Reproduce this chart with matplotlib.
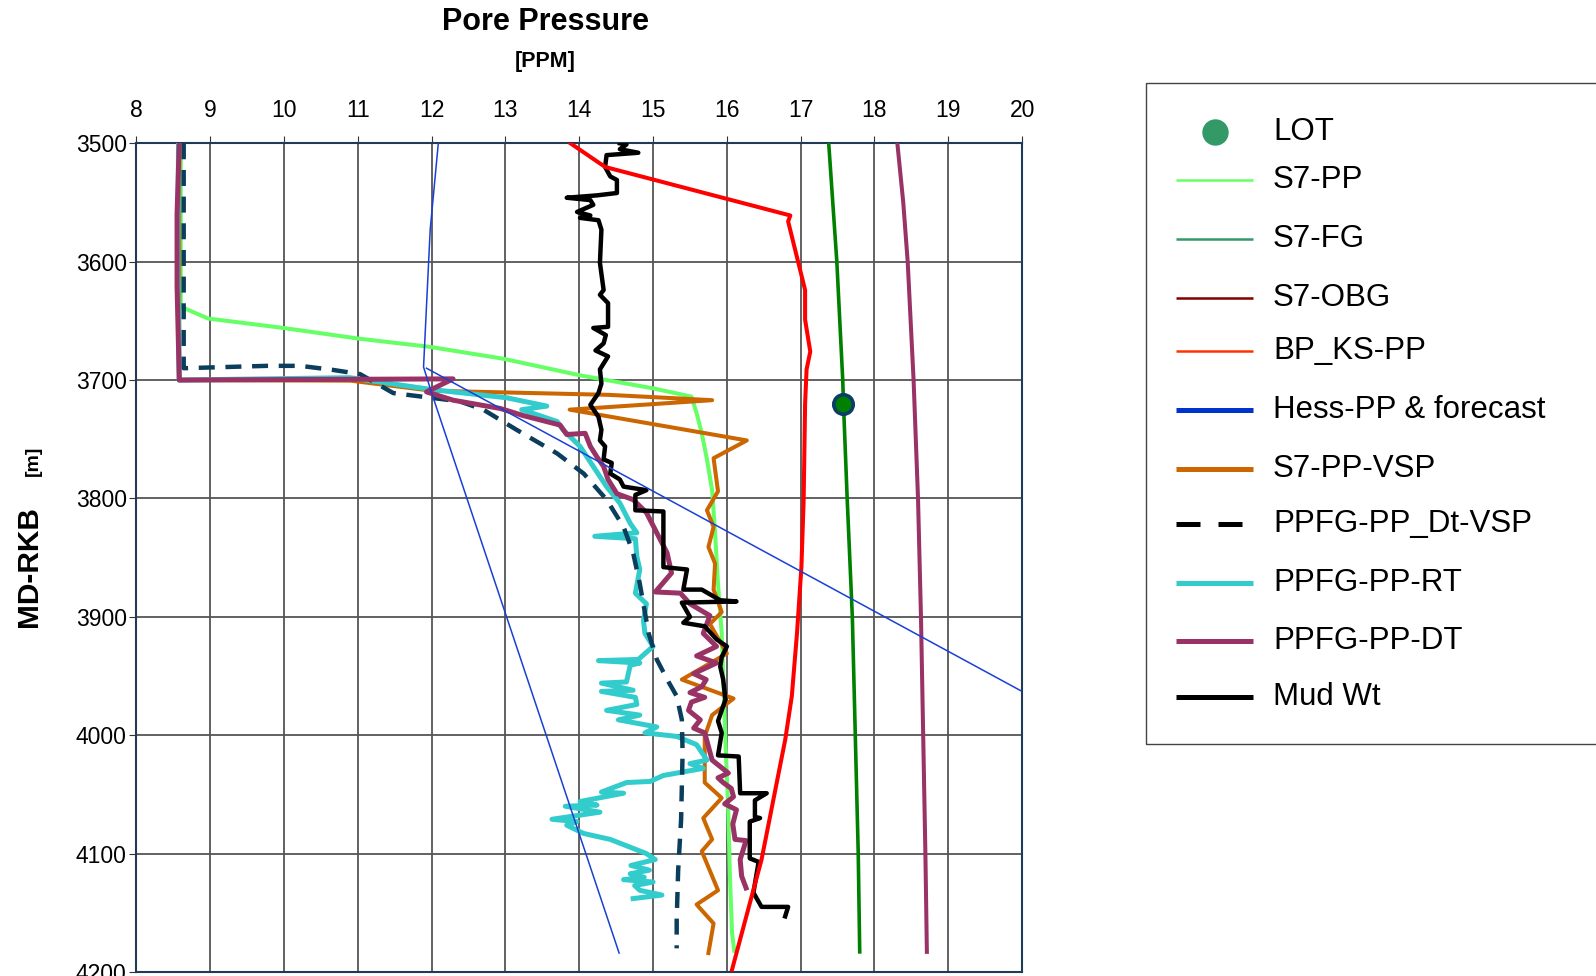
import matplotlib
matplotlib.use("Agg")
import matplotlib.pyplot as plt
from matplotlib.lines import Line2D
from matplotlib.patches import Rectangle

plt.rcParams['font.family'] = ['Liberation Sans', 'DejaVu Sans']

# ---- data: pressure gradient [ppg] vs measured depth [m] ----
s7pp_md = [3500, 3638, 3648, 3656, 3665, 3672, 3682, 3696, 3707, 3714, 3728, 3745,
           3767, 3793, 3829, 3872, 3914, 4004, 4066, 4117, 4167, 4182]
s7pp = [8.60, 8.60, 8.97, 9.99, 11.01, 11.98, 12.97, 14.01, 15.00, 15.52, 15.59, 15.66,
        15.73, 15.80, 15.84, 15.88, 15.93, 15.98, 16.02, 16.04, 16.07, 16.10]

s7fg_md = [3500, 3600, 3700, 3720, 3800, 3900, 4000, 4100, 4183]
s7fg = [17.38, 17.49, 17.57, 17.58, 17.63, 17.70, 17.74, 17.78, 17.80]

s7obg_md = [3500, 3550, 3600, 3700, 3800, 3900, 4000, 4100, 4183]
s7obg = [18.31, 18.39, 18.45, 18.53, 18.59, 18.63, 18.66, 18.69, 18.71]

bpks_md = [3500, 3520, 3561, 3566, 3624, 3649, 3676, 3691, 3720, 3802, 3858, 3914,
           3967, 4004, 4105, 4198]
bpks = [13.88, 14.35, 16.86, 16.83, 17.06, 17.06, 17.13, 17.08, 17.06, 17.04, 17.01, 16.95,
        16.88, 16.79, 16.47, 16.07]

hess_md = [3500, 3573, 3689, 3711, 4184]
hess = [12.09, 11.98, 11.89, 12.00, 14.54]
forecast_md = [3690, 3963]
forecast = [11.93, 20.0]

vsp_md = [3500, 3700, 3700.5, 3709, 3712.5, 3717, 3725, 3751, 3766, 3794, 3810, 3824,
          3841, 3855, 3877, 3896, 3906, 3931, 3953, 3969, 3983, 4001, 4040, 4053,
          4070, 4088, 4098, 4131, 4143, 4159, 4184]
vsp = [8.58, 8.58, 10.90, 12.00, 14.40, 15.80, 13.87, 16.27, 15.82, 15.88, 15.73, 15.82,
       15.75, 15.84, 15.82, 15.93, 15.77, 16.00, 15.39, 16.09, 15.80, 15.70, 15.70, 15.93,
       15.68, 15.80, 15.66, 15.88, 15.59, 15.82, 15.75]

dtvsp_md = [3500, 3689, 3690, 3688, 3688, 3691.5, 3695, 3711, 3718, 3725, 3742, 3762,
            3779, 3801, 3824, 3846, 3872, 3914, 3936, 3955, 3967, 3987, 4015, 4071,
            4114, 4156, 4180]
dtvsp = [8.64, 8.64, 8.64, 9.77, 10.22, 10.67, 11.03, 11.48, 12.38, 12.70, 13.15, 13.70,
         14.06, 14.37, 14.60, 14.73, 14.82, 14.94, 15.05, 15.21, 15.32, 15.39, 15.40, 15.38,
         15.34, 15.32, 15.32]

rt_md = [3500, 3600, 3700, 3698, 3708, 3715, 3722, 3725, 3735, 3742, 3756, 3773,
         3790, 3804, 3821, 3829, 3832, 3834, 3849, 3860, 3880, 3889, 3903, 3914,
         3925, 3936, 3937, 3939, 3941, 3955, 3956, 3962, 3963, 3968, 3974, 3979,
         3983, 3987, 3993, 3998, 4001, 4008, 4021, 4024, 4028, 4034, 4039, 4040,
         4048, 4049, 4056, 4059, 4060, 4065, 4071, 4073, 4076, 4083, 4088, 4100,
         4105, 4110, 4114, 4117, 4120, 4122, 4124, 4127, 4131, 4135, 4138]
rt = [8.57, 8.56, 8.58, 10.89, 12.00, 13.02, 13.56, 13.22, 13.70, 13.78, 14.01, 14.19,
      14.37, 14.55, 14.69, 14.78, 14.21, 14.76, 14.78, 14.82, 14.76, 14.91, 14.87, 14.89,
      15.00, 14.80, 14.26, 14.82, 14.69, 14.64, 14.30, 14.73, 14.30, 14.76, 14.78, 14.37,
      14.82, 14.53, 15.05, 14.89, 15.32, 15.59, 15.73, 15.50, 15.68, 15.14, 14.96, 14.64,
      14.30, 14.60, 14.01, 14.24, 13.81, 14.28, 13.63, 13.97, 13.83, 14.06, 14.42, 14.91,
      15.03, 14.70, 14.95, 14.69, 14.88, 14.60, 15.00, 14.75, 14.82, 15.12, 14.73]

dt_md = [3500, 3560, 3620, 3700, 3699, 3710, 3717, 3724, 3730, 3738, 3746, 3745,
         3756, 3765, 3773, 3784, 3796, 3801, 3812, 3829, 3846, 3863, 3879, 3880,
         3889, 3899, 3914, 3925, 3933, 3939, 3948, 3953, 3959, 3964, 3968, 3972,
         3979, 3987, 3994, 3998, 4021, 4032, 4036, 4040, 4045, 4052, 4058, 4063,
         4075, 4088, 4089, 4105, 4119, 4129]
dt = [8.58, 8.55, 8.55, 8.58, 12.29, 11.93, 12.29, 12.93, 13.24, 13.74, 13.83, 14.08,
      14.15, 14.24, 14.33, 14.39, 14.51, 14.73, 14.91, 15.05, 15.19, 15.25, 15.03, 15.37,
      15.50, 15.77, 15.68, 15.86, 15.59, 15.86, 15.55, 15.72, 15.66, 15.50, 15.70, 15.52,
      15.48, 15.64, 15.55, 15.70, 15.80, 16.02, 15.88, 15.95, 16.06, 16.09, 15.97, 16.13,
      16.08, 16.11, 16.26, 16.18, 16.20, 16.26]

mud_md = [3500, 3501, 3505, 3508, 3510, 3520, 3528, 3531, 3542, 3544, 3546, 3548,
          3552, 3558, 3561, 3563, 3565, 3573, 3601, 3624, 3628, 3635, 3655, 3656,
          3662, 3669, 3675, 3680, 3691, 3703, 3711, 3721, 3731, 3742, 3751, 3756,
          3767, 3770, 3779, 3784, 3790, 3793, 3797, 3810, 3811, 3858, 3860, 3877,
          3877, 3886, 3887, 3888, 3900, 3905, 3908, 3919, 3925, 3934, 3942, 3953,
          3970, 3988, 3998, 4017, 4018, 4049, 4049, 4055, 4069, 4070, 4073, 4104,
          4107, 4133, 4145, 4145, 4153]
mud = [14.55, 14.64, 14.55, 14.80, 14.37, 14.35, 14.42, 14.51, 14.51, 14.24, 13.83, 14.15,
       14.19, 13.97, 14.15, 14.01, 14.26, 14.30, 14.28, 14.33, 14.28, 14.39, 14.39, 14.19,
       14.36, 14.33, 14.22, 14.39, 14.28, 14.30, 14.26, 14.15, 14.26, 14.30, 14.28, 14.35,
       14.33, 14.44, 14.42, 14.55, 14.60, 14.91, 14.76, 14.76, 15.14, 15.14, 15.46, 15.41,
       15.66, 15.91, 16.13, 15.39, 15.50, 15.41, 15.70, 15.86, 16.00, 15.93, 15.91, 15.95,
       15.98, 15.88, 15.93, 15.88, 16.16, 16.18, 16.54, 16.38, 16.38, 16.45, 16.31, 16.31,
       16.43, 16.36, 16.47, 16.83, 16.79]

lot_md = [3720]
lot = [17.58]

legend_labels = ['LOT', 'S7-PP', 'S7-FG', 'S7-OBG', 'BP_KS-PP', 'Hess-PP & forecast',
                 'S7-PP-VSP', 'PPFG-PP_Dt-VSP', 'PPFG-PP-RT', 'PPFG-PP-DT', 'Mud Wt']
x_ticks = list(range(8, 21))
y_ticks = list(range(3500, 4201, 100))

# ---- figure ----
fig = plt.figure(figsize=(15.96, 9.76), dpi=100)
ax = fig.add_axes([0.0855, 0.0041, 0.5549, 0.8491])

ax.plot(s7pp, s7pp_md, color='#66FF66', lw=2.9, zorder=2)
ax.plot(vsp, vsp_md, color='#CC6600', lw=2.9, zorder=3)
ax.plot(rt, rt_md, color='#33CCCC', lw=3.6, zorder=4)
ax.plot(dtvsp, dtvsp_md, color='#0B3D5C', lw=3.2, dashes=(3.6, 2.4), zorder=5)
ax.plot(dt, dt_md, color='#993366', lw=3.6, zorder=6)
ax.plot(mud, mud_md, color='black', lw=3.2, zorder=7)
ax.plot(bpks, bpks_md, color='#FF0000', lw=2.9, zorder=8)
ax.plot(s7fg, s7fg_md, color='#008000', lw=2.6, zorder=8)
ax.plot(s7obg, s7obg_md, color='#993366', lw=2.9, zorder=8)
ax.plot(hess, hess_md, color='#1A3FD6', lw=1.1, zorder=9)
ax.plot(forecast, forecast_md, color='#1A3FD6', lw=1.1, zorder=9)
ax.plot(lot, lot_md, 'o', ms=14, mfc='#008000', mec='#0B3D66', mew=2.6, zorder=10)

ax.set_xlim(8, 20)
ax.set_ylim(4200, 3500)
ax.set_xticks(x_ticks)
ax.set_yticks(y_ticks)
ax.xaxis.tick_top()
ax.tick_params(axis='x', labelsize=16.5, length=5, pad=10, color='#333333')
ax.tick_params(axis='y', labelsize=16.5, length=5, pad=2, color='#333333')
ax.grid(True, color='#555555', lw=1.3, zorder=0)
ax.set_axisbelow(True)
for sp in ax.spines.values():
    sp.set_color('#1F3B57')
    sp.set_linewidth(1.5)

# titles
fig.text(0.3417, 0.977, 'Pore Pressure', ha='center', va='center',
         fontsize=22, fontweight='bold')
fig.text(0.3418, 0.9375, '[PPM]', ha='center', va='center',
         fontsize=15.5, fontweight='bold')
fig.text(0.0182, 0.42, 'MD-RKB', ha='center', va='center', rotation=90,
         fontsize=21.5, fontweight='bold')
fig.text(0.021, 0.5277, '[m]', ha='center', va='center', rotation=90,
         fontsize=14, fontweight='bold')

# legend drawn by hand in figure pixels
W, H = 1596.0, 976.0
fig.add_artist(Rectangle((1146 / W, 1 - 744 / H), 460 / W, (744 - 83) / H,
                         transform=fig.transFigure, fill=False,
                         edgecolor='#444444', lw=1.0))
entry_y = [132, 180, 239, 298, 351, 410, 469, 524, 583, 641, 697]
styles = [
    None,
    dict(color='#66FF66', lw=1.8),
    dict(color='#339966', lw=1.8),
    dict(color='#800000', lw=1.8),
    dict(color='#FF3300', lw=1.8),
    dict(color='#0033CC', lw=3.6),
    dict(color='#CC6600', lw=3.6),
    dict(color='black', lw=3.6, dashes=(4.8, 3.6)),
    dict(color='#33CCCC', lw=3.6),
    dict(color='#993366', lw=3.6),
    dict(color='black', lw=3.6),
]
for label, yy, st in zip(legend_labels, entry_y, styles):
    fy = 1 - yy / H
    if st is None:
        fig.add_artist(Line2D([1215 / W], [fy], marker='o', ms=18, color='#339966',
                              lw=0, transform=fig.transFigure))
    else:
        fig.add_artist(Line2D([1176 / W, 1253 / W], [fy, fy], solid_capstyle='butt',
                              dash_capstyle='butt', transform=fig.transFigure, **st))
    fig.text(1273 / W, fy, label, ha='left', va='center', fontsize=22.5)

fig.savefig('out.png', dpi=100)
